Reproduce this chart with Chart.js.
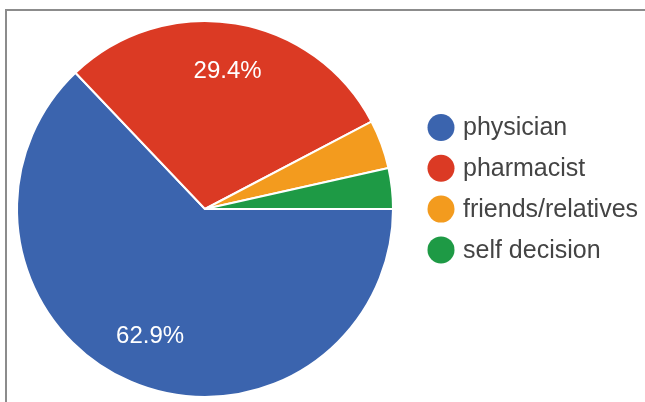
<!DOCTYPE html>
<html>
<head>
<meta charset="utf-8">
<script src="https://cdn.jsdelivr.net/npm/chart.js@4.4.1/dist/chart.umd.min.js"></script>
<style>
    html, body { margin: 0; padding: 0; background: #fff; }
    #wrap { position: relative; width: 645px; height: 402px; }
    #frame {
        position: absolute; left: 5px; top: 9px; right: 0; bottom: 0;
        border-left: 2px solid #8c8c8c; border-top: 2px solid #8c8c8c;
        pointer-events: none;
    }
    canvas { position: absolute; left: 0; top: 0; }
</style>
</head>
<body>
<div id="wrap">
    <canvas id="chart" width="645" height="402"></canvas>
    <div id="frame"></div>
</div>
<script>
    const categories = ['physician', 'pharmacist', 'friends/relatives', 'self decision'];
    const shares = [62.9, 29.4, 4.2, 3.5];
    const colors = ['#3b64ae', '#db3a24', '#f39b1e', '#1e9a45'];

    const FONT = '"Liberation Sans", Arial, sans-serif';

    // percent labels inside the larger slices
    const sliceLabels = {
        id: 'sliceLabels',
        afterDatasetsDraw(chart) {
            const ctx = chart.ctx;
            const meta = chart.getDatasetMeta(0);
            const total = shares.reduce((a, b) => a + b, 0);
            ctx.save();
            ctx.font = '24px ' + FONT;
            ctx.fillStyle = '#ffffff';
            ctx.textAlign = 'center';
            ctx.textBaseline = 'middle';
            meta.data.forEach((arc, i) => {
                const pct = shares[i] / total * 100;
                if (pct < 10) return;
                const mid = (arc.startAngle + arc.endAngle) / 2;
                const r = arc.outerRadius * 0.74;
                ctx.fillText(pct.toFixed(1) + '%', arc.x + Math.cos(mid) * r, arc.y + Math.sin(mid) * r);
            });
            ctx.restore();
        }
    };

    // legend on the right, circle markers
    const sideLegend = {
        id: 'sideLegend',
        afterDraw(chart) {
            const ctx = chart.ctx;
            ctx.save();
            ctx.font = '25px ' + FONT;
            ctx.textBaseline = 'middle';
            categories.forEach((name, i) => {
                const y = 127.5 + i * 40.8;
                ctx.beginPath();
                ctx.arc(441, y, 13.5, 0, Math.PI * 2);
                ctx.fillStyle = colors[i];
                ctx.fill();
                ctx.fillStyle = '#444444';
                ctx.fillText(name, 463, y + 1);
            });
            ctx.restore();
        }
    };

    new Chart(document.getElementById('chart').getContext('2d'), {
        type: 'pie',
        data: {
            labels: categories,
            datasets: [{
                data: shares,
                backgroundColor: colors,
                borderColor: '#ffffff',
                borderWidth: 2
            }]
        },
        options: {
            responsive: false,
            animation: false,
            rotation: 90,
            layout: { padding: { left: 16, top: 20, right: 251, bottom: 4 } },
            plugins: {
                legend: { display: false },
                tooltip: { enabled: false }
            }
        },
        plugins: [sliceLabels, sideLegend]
    });
</script>
</body>
</html>
